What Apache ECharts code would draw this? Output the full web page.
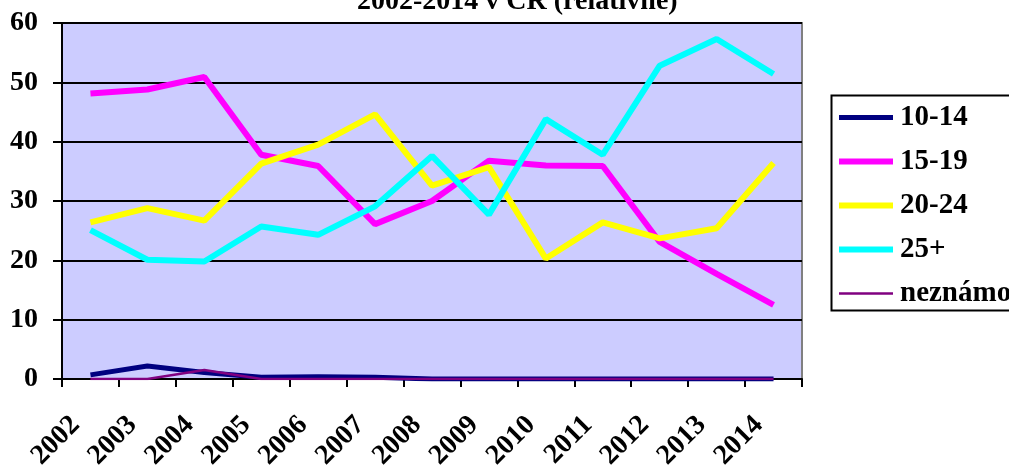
<!DOCTYPE html>
<html>
<head>
  <meta charset="utf-8">
  <title>2002-2014 v ČR (relativně)</title>
  <script src="https://cdn.jsdelivr.net/npm/echarts@6.0.0/dist/echarts.min.js"></script>
  <style>
    html, body { margin: 0; padding: 0; background: #fff; }
    #main { width: 1009px; height: 467px; }
  </style>
</head>
<body>
  <div id="main"></div>
  <script>
    // 数据
    const years = ['2002', '2003', '2004', '2005', '2006', '2007', '2008', '2009', '2010', '2011', '2012', '2013', '2014'];
    const age10_14 = [0.7, 2.2, 1.1, 0.3, 0.4, 0.3, 0, 0, 0, 0, 0, 0, 0];
    const age15_19 = [48.1, 48.8, 50.9, 37.8, 35.9, 26.1, 30.0, 36.8, 36.0, 35.9, 23.1, 17.7, 12.5];
    const age20_24 = [26.4, 28.8, 26.7, 36.3, 39.5, 44.6, 32.6, 35.7, 20.3, 26.4, 23.7, 25.4, 36.4];
    const age25plus = [25.1, 20.1, 19.8, 25.7, 24.3, 29.1, 37.6, 27.7, 43.8, 37.8, 52.8, 57.3, 51.4];
    const unknown = [0, 0, 1.5, 0, 0, 0, 0, 0, 0, 0, 0, 0, 0];
    const yTicks = [0, 10, 20, 30, 40, 50, 60];

    const font = 'Liberation Serif';

    const chart = echarts.init(document.getElementById('main'));

    function line(name, values, color, width) {
      return {
        name: name,
        type: 'line',
        data: values,
        symbol: 'none',
        itemStyle: { color: color },
        lineStyle: { color: color, width: width }
      };
    }

    // 图例线条（不同粗细）
    function bar(h) {
      return 'path://M0 0H54V' + h + 'H0Z';
    }

    const option = {
      animation: false,
      backgroundColor: '#fff',
      title: {
        text: '2002-2014 v ČR (relativně)',
        left: 352,
        top: -17,
        textStyle: { fontFamily: font, fontWeight: 'bold', fontSize: 28, color: '#000' }
      },
      grid: {
        left: 62,
        top: 23,
        right: 207,
        bottom: 88,
        outerBoundsMode: 'none',
        containLabel: false,
        show: true,
        backgroundColor: '#CCCCFF',
        borderColor: '#808080',
        borderWidth: 2
      },
      legend: {
        orient: 'vertical',
        left: 834,
        top: 98,
        itemWidth: 54,
        itemHeight: 14,
        itemGap: 15,
        symbolKeepAspect: true,
        textStyle: { fontFamily: font, fontWeight: 'bold', fontSize: 29, color: '#000', padding: [0, 0, 0, 2] },
        data: [
          { name: '10-14', icon: bar(5) },
          { name: '15-19', icon: bar(6) },
          { name: '20-24', icon: bar(6) },
          { name: '25+', icon: bar(6) },
          { name: 'neznámo', icon: bar(2.5) }
        ]
      },
      graphic: [
        {
          type: 'rect',
          left: 829,
          top: 93,
          shape: { width: 200, height: 215 },
          style: { fill: 'none', stroke: '#000', lineWidth: 2 }
        }
      ],
      xAxis: {
        type: 'category',
        data: years,
        boundaryGap: true,
        axisLine: { lineStyle: { color: '#000', width: 2 } },
        axisTick: { show: true, length: 8, lineStyle: { color: '#000', width: 2 } },
        axisLabel: {
          rotate: 45,
          margin: 27,
          padding: [0, 21, 0, 0],
          interval: 0,
          fontFamily: font,
          fontWeight: 'bold',
          fontSize: 28,
          color: '#000'
        },
        splitLine: { show: false }
      },
      yAxis: {
        type: 'value',
        min: yTicks[0],
        max: yTicks[yTicks.length - 1],
        interval: 10,
        axisLine: { show: true, lineStyle: { color: '#000', width: 2 } },
        axisTick: { show: true, length: 9, lineStyle: { color: '#000', width: 2 } },
        axisLabel: {
          margin: 24,
          fontFamily: font,
          fontWeight: 'bold',
          fontSize: 28,
          color: '#000'
        },
        splitLine: { lineStyle: { color: '#000', width: 2 } }
      },
      series: [
        line('10-14', age10_14, '#000080', 5),
        line('15-19', age15_19, '#FF00FF', 6),
        line('20-24', age20_24, '#FFFF00', 6),
        line('25+', age25plus, '#00FFFF', 6),
        line('neznámo', unknown, '#800080', 2.5)
      ]
    };

    chart.setOption(option);
  </script>
</body>
</html>
